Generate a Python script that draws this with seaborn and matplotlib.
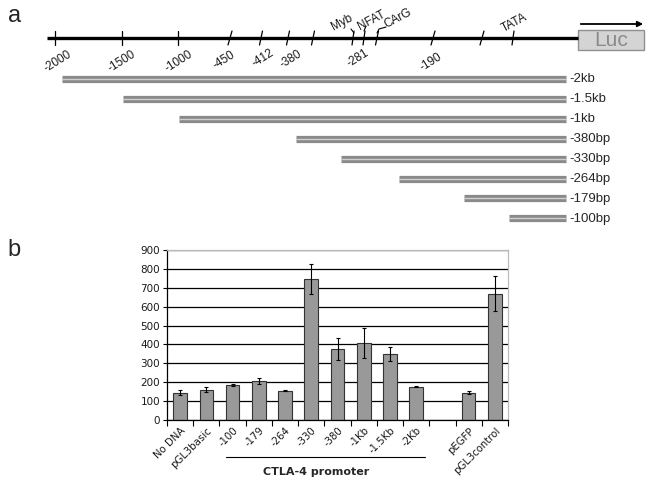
import numpy as np
import pandas as pd
import seaborn as sns
import matplotlib.pyplot as plt
import matplotlib.transforms as mtransforms
from matplotlib.patches import Rectangle

# panel a: promoter map (schematic units, left to right)
map_start, map_end = 47, 578
tick_pos = [55, 122, 178, 230, 261, 288, 313, 353, 364, 377, 433, 482, 513]
tick_lean = [0, 0, 0, 2, 1.5, 1.5, 1.5, 1, 1, 1.5, 2, 2, 1]
pos_labels = ["-2000", "-1500", "-1000", "-450", "-412", "-380", "-281", "-190"]
pos_label_xy = [(58, 60), (122, 60), (179, 60), (224, 59), (263, 57), (291, 58), (358, 57), (431, 61)]
site_labels = ["Myb", "NFAT", "CArG", "TATA"]
site_label_xy = [(342, 22), (372, 20), (398, 18), (514, 23)]

constructs = ["-2kb", "-1.5kb", "-1kb", "-380bp", "-330bp", "-264bp", "-179bp", "-100bp"]
construct_start = [62, 123, 179, 296, 341, 399, 464, 509]
construct_end = 566

# panel b: luciferase activity
samples = ["No DNA", "pGL3basic", "-100", "-179", "-264", "-330", "-380",
           "-1Kb", "-1.5Kb", "-2Kb", "pEGFP", "pGL3control"]
activity = [145, 160, 187, 205, 155, 746, 378, 408, 350, 177, 145, 668]
activity_err = [12, 12, 5, 17, 3, 80, 58, 78, 36, 4, 10, 93]
order = samples[:10] + [" "] + samples[10:]

sns.set_theme(style="white")
plt.rcParams['font.family'] = ['Liberation Sans', 'DejaVu Sans']

fig = plt.figure(figsize=(6.55, 4.97), dpi=100)

# ---- panel a ----
axa = fig.add_axes([0, 0, 1, 1])
axa.set_xlim(0, 655)
axa.set_ylim(497, 0)
axa.axis("off")

axa.plot([map_start, map_end], [38, 38], color="black", lw=2.4, solid_capstyle="butt")
for x, lean in zip(tick_pos, tick_lean):
    axa.plot([x - lean, x + lean], [45, 31], color="black", lw=0.9)
for lab, (x, y) in zip(pos_labels, pos_label_xy):
    axa.text(x, y + 1, lab, rotation=32, ha="center", va="center", fontsize=8.5, color="#1a1a1a")
for lab, (x, y) in zip(site_labels, site_label_xy):
    axa.text(x, y, lab, rotation=28, ha="center", va="center", fontsize=8.5, color="#1a1a1a")
# leader lines from site labels to the map
axa.plot([351, 354], [29, 33], color="black", lw=0.8)
axa.plot([364, 366], [31, 26], color="black", lw=0.8)
axa.plot([377, 379, 386], [33, 29, 27], color="black", lw=0.8)

axa.add_patch(Rectangle((578, 30), 66, 20, facecolor="#d4d4d4", edgecolor="#8f8f8f", lw=1))
axa.text(611, 40.5, "Luc", ha="center", va="center", fontsize=15, color="#8a8a8a")
axa.annotate("", xy=(646, 24), xytext=(578, 24),
             arrowprops=dict(arrowstyle="-|>", color="black", lw=1.3, mutation_scale=8))

for i, (name, start) in enumerate(zip(constructs, construct_start)):
    y = 79 + i * 19.9
    axa.plot([start, construct_end], [y, y], color="#8a8a8a", lw=5.2, solid_capstyle="butt")
    axa.plot([start, construct_end], [y, y], color="#cfcfcf", lw=1.0, solid_capstyle="butt")
    axa.text(construct_end + 3, y + 0.5, name, ha="left", va="center",
             fontsize=9.5, color="#262626")

fig.text(0.012, 0.968, "a", fontsize=17, va="center", ha="left")
fig.text(0.012, 0.497, "b", fontsize=17, va="center", ha="left")

# ---- panel b ----
ax = fig.add_axes([0.255, 0.155, 0.5206, 0.342])
df = pd.DataFrame({"sample": samples, "activity": activity})
sns.barplot(data=df, x="sample", y="activity", order=order, color="#999999",
            edgecolor="#333333", linewidth=0.8, width=0.52, errorbar=None,
            saturation=1, ax=ax)
ax.errorbar([order.index(s) for s in samples], activity, yerr=activity_err,
            fmt="none", ecolor="black", elinewidth=0.8, capsize=1.6, capthick=0.8)

ax.set_ylim(0, 900)
ax.set_xlim(-0.5, len(order) - 0.5)
ax.set_yticks(range(0, 901, 100))
ax.yaxis.grid(True, color="black", lw=0.9)
ax.set_axisbelow(True)
ax.set_xlabel("")
ax.set_ylabel("")
ax.set_xticks(range(len(order)))
ax.set_xticklabels(["" if s == " " else s for s in order], rotation=45, ha="right",
                   rotation_mode="anchor", fontsize=7.3, family="DejaVu Sans", color="#1a1a1a")
shift = mtransforms.ScaledTranslation(-8 / 100, 0, fig.dpi_scale_trans)
for t in ax.get_xticklabels():
    t.set_transform(t.get_transform() + shift)
ax.set_xticks(np.arange(-0.5, len(order)), minor=True)
ax.tick_params(axis="x", which="major", length=0, pad=4)
ax.tick_params(axis="x", which="minor", length=4, width=0.8, color="black", direction="out",
               bottom=True)
ax.tick_params(axis="y", labelsize=7.5, length=3, width=0.8, direction="out", left=True,
               color="black", pad=2, labelcolor="#1a1a1a")
for t in ax.get_yticklabels():
    t.set_family("DejaVu Sans")
for side in ["left", "bottom"]:
    ax.spines[side].set_color("black")
    ax.spines[side].set_linewidth(0.9)
for side in ["top", "right"]:
    ax.spines[side].set_color("#bbbbbb")
    ax.spines[side].set_linewidth(0.9)

trans = mtransforms.blended_transform_factory(ax.transData, ax.transAxes)
ax.plot([1.75, 9.35], [-0.218, -0.218], color="black", lw=0.8, transform=trans, clip_on=False)
ax.text(5.17, -0.305, "CTLA-4 promoter", transform=trans, ha="center", va="center",
        fontsize=8, fontweight="bold", family="DejaVu Sans")

fig.savefig("out.png", dpi=100)
